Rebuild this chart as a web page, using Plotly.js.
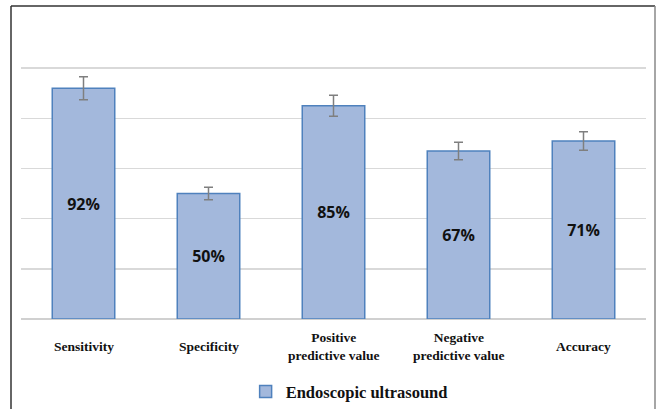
<!DOCTYPE html>
<html>
<head>
<meta charset="utf-8">
<script src="https://cdn.plot.ly/plotly-3.0.1.min.js"></script>
<style>
html,body{margin:0;padding:0;background:#fff;}
#chart{width:657px;height:409px;}
</style>
</head>
<body>
<div id="chart"></div>
<script>
const categories = ["Sensitivity", "Specificity", "Positive<br>predictive value", "Negative<br>predictive value", "Accuracy"];
const values = [0.92, 0.50, 0.85, 0.67, 0.71];
const errors = [0.046, 0.025, 0.042, 0.035, 0.037];
const valueLabels = ["92%", "50%", "85%", "67%", "71%"];
const seriesName = "Endoscopic ultrasound";

const trace = {
  type: "bar",
  x: categories,
  y: values,
  name: seriesName,
  text: valueLabels,
  textposition: "inside",
  insidetextanchor: "middle",
  textangle: 0,
  textfont: {family: "Open Sans, sans-serif", size: 16, color: "#111", weight: 700},
  width: 0.5,
  marker: {color: "#a3b8dc", line: {color: "#4f81bd", width: 1.5}},
  error_y: {type: "data", array: errors, visible: true, color: "#7f7f7f", thickness: 1.5, width: 4.5},
  hoverinfo: "skip",
  showlegend: true
};

const annotations = categories.map(c => ({
  x: c, xref: "x", y: -0.09, yref: "paper",
  text: c, showarrow: false, yanchor: "middle", xanchor: "center",
  font: {family: "Liberation Serif, Times New Roman, serif", size: 13.5, color: "#111", weight: 700}
}));

const layout = {
  width: 657, height: 409,
  margin: {l: 21, r: 11, t: 18, b: 90, autoexpand: false},
  paper_bgcolor: "#fff", plot_bgcolor: "#fff",
  bargap: 0.5,
  xaxis: {showticklabels: false, ticks: "", showgrid: false, zeroline: false, showline: false, fixedrange: true},
  yaxis: {range: [0, 1.2], dtick: 0.2, tick0: 0, showticklabels: false, ticks: "", showgrid: true, gridcolor: "#d9d9d9", gridwidth: 1.5, zeroline: true, zerolinecolor: "#d0d0d0", zerolinewidth: 1.5, showline: false, fixedrange: true},
  legend: {
    orientation: "h", x: 0.525, xanchor: "center", y: -0.2415, yanchor: "middle",
    font: {family: "Liberation Serif, Times New Roman, serif", size: 16.5, color: "#111", weight: 700},
    itemwidth: 30
  },
  annotations: annotations,
  shapes: [
    {type: "line", xref: "paper", yref: "paper", x0: -0.016, x1: -0.016, y0: 1.04, y1: -0.4, line: {color: "#333", width: 1.5}},
    {type: "line", xref: "paper", yref: "paper", x0: -0.016, x1: 1.0144, y0: 1.04, y1: 1.04, line: {color: "#333", width: 1.5}},
    {type: "line", xref: "paper", yref: "paper", x0: 1.0144, x1: 1.0144, y0: 1.04, y1: -0.4, line: {color: "#888", width: 1.5}}
  ]
};

Plotly.newPlot("chart", [trace], layout, {displayModeBar: false, staticPlot: true});
</script>
</body>
</html>
